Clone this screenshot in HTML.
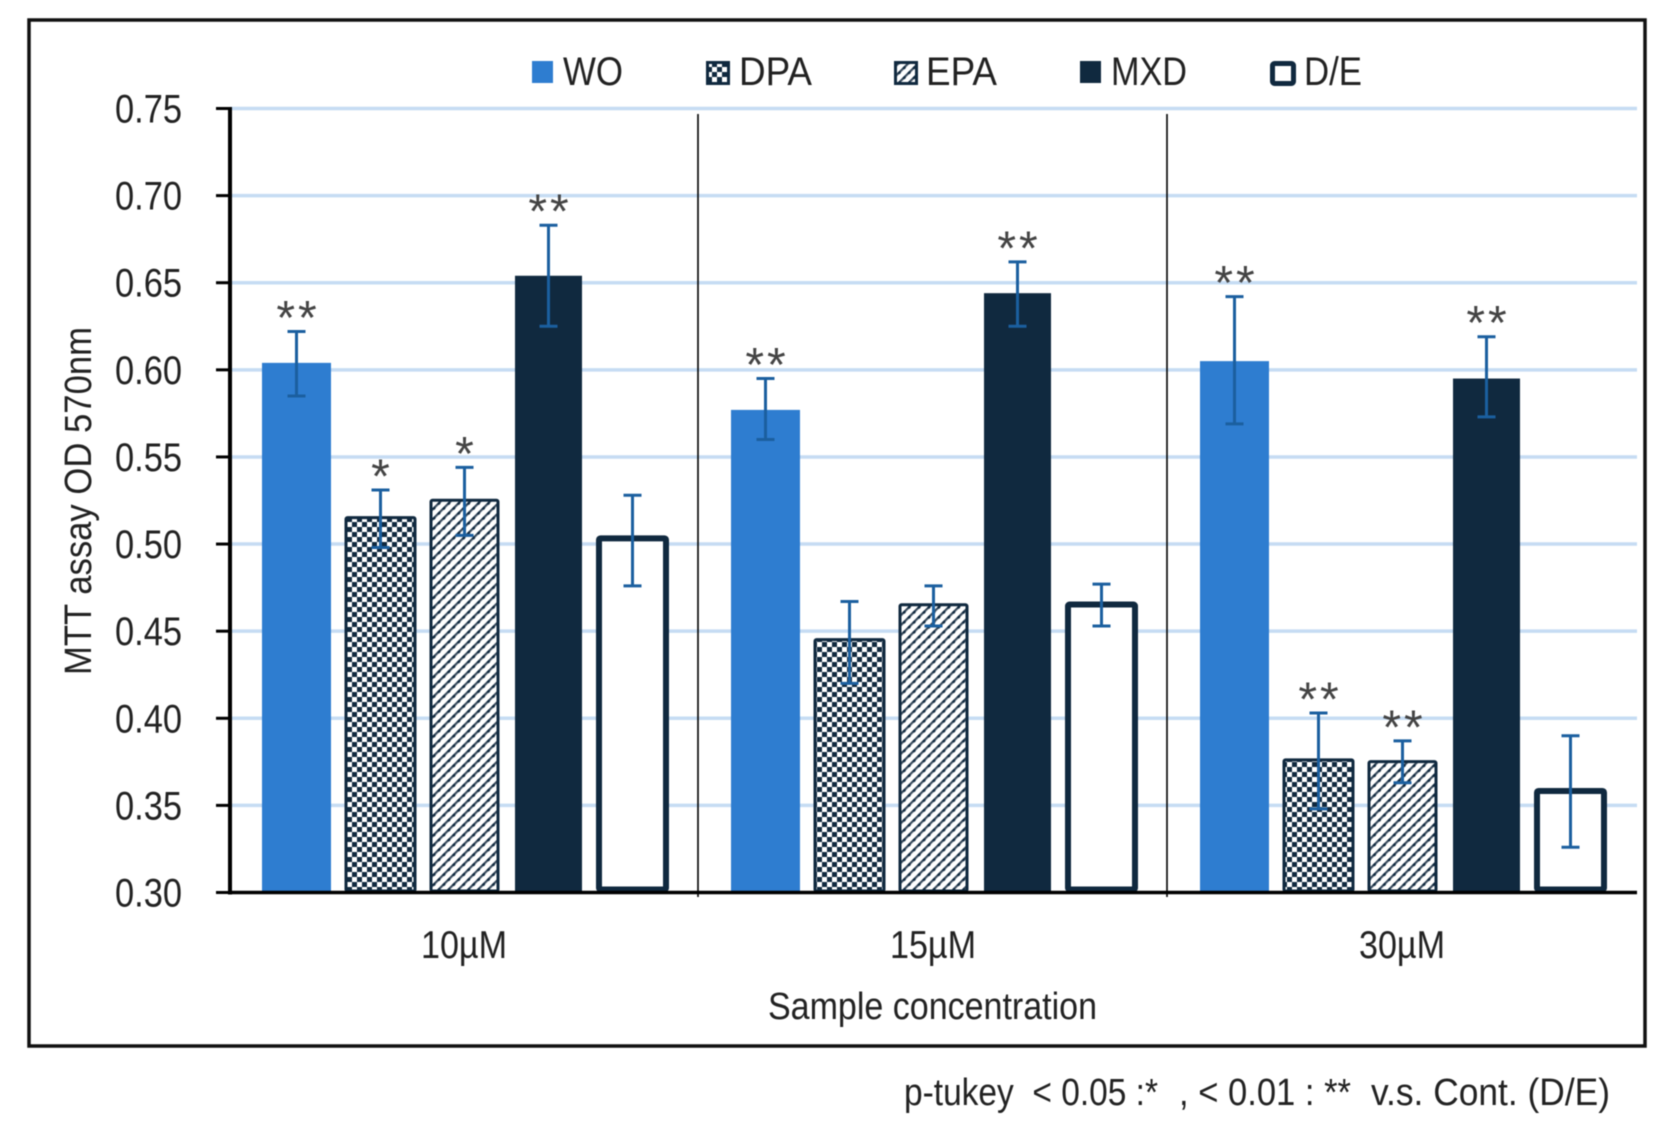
<!DOCTYPE html>
<html lang="en">
<head>
<meta charset="utf-8">
<title>MTT assay chart</title>
<style>
html,body{margin:0;padding:0;background:#fff;width:1668px;height:1130px;overflow:hidden}
svg{display:block;filter:blur(0.6px)}
text{font-family:"Liberation Sans",sans-serif;fill:#222}
</style>
</head>
<body>
<svg id="chart" xmlns="http://www.w3.org/2000/svg" width="1668" height="1130" viewBox="0 0 1668 1130">
  <defs>
    <pattern id="pat-check" width="10" height="10" patternUnits="userSpaceOnUse" patternTransform="translate(2 2)">
      <rect width="10" height="10" fill="#ffffff"/>
      <rect width="5" height="5" fill="#10293f"/>
      <rect x="5" y="5" width="5" height="5" fill="#10293f"/>
    </pattern>
    <pattern id="pat-diag" width="7" height="7" patternUnits="userSpaceOnUse" patternTransform="rotate(-45)">
      <rect width="7" height="7" fill="#ffffff"/>
      <rect width="7" height="2.2" fill="#3a4c5e"/>
      <circle cx="3.5" cy="1.1" r="1.6" fill="#10293f"/>
    </pattern>
  </defs>
  <rect x="29" y="20" width="1616" height="1026" fill="#fff" stroke="#111" stroke-width="3.5"/>
  <g id="grid"></g>
  <g id="bars"></g>
  <line x1="698" y1="114" x2="698" y2="897" stroke="#000" stroke-width="1.6"/>
  <line x1="1167" y1="114" x2="1167" y2="897" stroke="#000" stroke-width="1.6"/>
  <g id="errors"></g>
  <g id="sig"></g>
  <g id="axes"></g>

  <g>
    <rect x="532" y="61" width="21" height="22" fill="#2e7dd0"/>
    <text x="563" y="85" font-size="40" textLength="60" lengthAdjust="spacingAndGlyphs">WO</text>
    <rect x="707.5" y="62.5" width="21" height="21" fill="url(#pat-check)" stroke="#10293f" stroke-width="3"/>
    <text x="739" y="85" font-size="40" textLength="73" lengthAdjust="spacingAndGlyphs">DPA</text>
    <rect x="895.5" y="62.5" width="21" height="21" fill="url(#pat-diag)" stroke="#10293f" stroke-width="3"/>
    <text x="926" y="85" font-size="40" textLength="71" lengthAdjust="spacingAndGlyphs">EPA</text>
    <rect x="1080" y="61" width="21" height="22" fill="#10293f"/>
    <text x="1111" y="85" font-size="40" textLength="76" lengthAdjust="spacingAndGlyphs">MXD</text>
    <rect x="1272.5" y="63.5" width="21" height="20" rx="2" fill="#fff" stroke="#10293f" stroke-width="5"/>
    <text x="1304" y="85" font-size="40" textLength="58" lengthAdjust="spacingAndGlyphs">D/E</text>
  </g>

  <text transform="translate(91 501) rotate(-90)" text-anchor="middle" font-size="38" textLength="348" lengthAdjust="spacingAndGlyphs">MTT assay OD 570nm</text>
  <text x="768" y="1019" font-size="38" textLength="329" lengthAdjust="spacingAndGlyphs">Sample concentration</text>
  <g>
    <text x="904" y="1105" font-size="38" textLength="254" lengthAdjust="spacingAndGlyphs" xml:space="preserve">p-tukey  &lt; 0.05 :*</text>
    <text x="1179" y="1105" font-size="38" textLength="172" lengthAdjust="spacingAndGlyphs">, &lt; 0.01 : **</text>
    <text x="1371" y="1105" font-size="38" textLength="239" lengthAdjust="spacingAndGlyphs">v.s. Cont. (D/E)</text>
  </g>
</svg>

<script>
const categories = ['10µM', '15µM', '30µM'];
const seriesNames = ['WO', 'DPA', 'EPA', 'MXD', 'D/E'];
const tickLabels = ['0.30', '0.35', '0.40', '0.45', '0.50', '0.55', '0.60', '0.65', '0.70', '0.75'];
const valuesWO = [0.604, 0.577, 0.605];
const valuesDPA = [0.516, 0.446, 0.377];
const valuesEPA = [0.526, 0.466, 0.376];
const valuesMXD = [0.654, 0.644, 0.595];
const valuesDE = [0.505, 0.467, 0.360];
const errHighWO = [0.622, 0.595, 0.642];
const errLowWO = [0.585, 0.560, 0.569];
const errHighDPA = [0.531, 0.467, 0.403];
const errLowDPA = [0.498, 0.420, 0.348];
const errHighEPA = [0.544, 0.476, 0.387];
const errLowEPA = [0.505, 0.453, 0.363];
const errHighMXD = [0.683, 0.662, 0.619];
const errLowMXD = [0.625, 0.625, 0.573];
const errHighDE = [0.528, 0.477, 0.390];
const errLowDE = [0.476, 0.453, 0.326];
const sigWO = ['**', '**', '**'];
const sigDPA = ['*', '', '**'];
const sigEPA = ['*', '', '**'];
const sigMXD = ['**', '**', '**'];
const sigDE = ['', '', ''];

const seriesValues = [valuesWO, valuesDPA, valuesEPA, valuesMXD, valuesDE];
const seriesHigh = [errHighWO, errHighDPA, errHighEPA, errHighMXD, errHighDE];
const seriesLow = [errLowWO, errLowDPA, errLowEPA, errLowMXD, errLowDE];
const seriesSig = [sigWO, sigDPA, sigEPA, sigMXD, sigDE];

const SVG_NS = 'http://www.w3.org/2000/svg';
const plotLeft = 230, plotRight = 1637, plotTop = 108.5, plotBottom = 892.5;
const axisMin = parseFloat(tickLabels[0]);
const axisMax = parseFloat(tickLabels[tickLabels.length - 1]);

function yScale(v) {
  return plotBottom - (v - axisMin) / (axisMax - axisMin) * (plotBottom - plotTop);
}
function groupCenter(c) {
  const band = (plotRight - plotLeft) / categories.length;
  return plotLeft + band * (c + 0.5);
}
function barCenter(c, s) {
  const step = 84;
  return groupCenter(c) + (s - (seriesNames.length - 1) / 2) * step;
}
function shape(tag, parent, props) {
  const el = document.createElementNS(SVG_NS, tag);
  for (const k in props) el.setAttribute(k, props[k]);
  parent.appendChild(el);
  return el;
}

const gridLayer = document.getElementById('grid');
const barLayer = document.getElementById('bars');
const errLayer = document.getElementById('errors');
const sigLayer = document.getElementById('sig');
const axisLayer = document.getElementById('axes');

tickLabels.forEach(function (label) {
  const v = parseFloat(label);
  const y = yScale(v);
  if (v > axisMin) {
    const g = shape('line', gridLayer, {x1: plotLeft, x2: plotRight, y1: y, y2: y, stroke: '#c6dcf3', 'stroke-width': 3.5});
    
    
  }
  const t = shape('line', axisLayer, {x1: 216, x2: plotLeft, y1: y, y2: y, stroke: '#000', 'stroke-width': 3});
  
  
  const txt = shape('text', axisLayer, {x: 115, y: y + 14, 'font-size': 40, textLength: 67, lengthAdjust: 'spacingAndGlyphs'});
  txt.textContent = label;
  
  
});

const yAxisLine = shape('line', axisLayer, {x1: plotLeft, x2: plotLeft, y1: plotTop - 1.5, y2: plotBottom + 2, stroke: '#000', 'stroke-width': 4});


const xAxisLine = shape('line', axisLayer, {x1: plotLeft, x2: plotRight, y1: plotBottom, y2: plotBottom, stroke: '#000', 'stroke-width': 3.5});



categories.forEach(function (cat, c) {
  const t = shape('text', axisLayer, {x: groupCenter(c) - 43.5, y: 958, 'font-size': 39, textLength: 86, lengthAdjust: 'spacingAndGlyphs'});
  t.textContent = cat;
  
  

  seriesNames.forEach(function (name, s) {
    const cx = barCenter(c, s);
    const top = yScale(seriesValues[s][c]);
    let fill = '#2e7dd0', stroke = 'none', sw = 0, halfW = 34.5;
    if (s === 1) { fill = 'url(#pat-check)'; stroke = '#10293f'; sw = 3; halfW = 34.5; }
    if (s === 2) { fill = 'url(#pat-diag)'; stroke = '#10293f'; sw = 3; halfW = 33.5; }
    if (s === 3) { fill = '#10293f'; halfW = 33.5; }
    if (s === 4) { fill = '#ffffff'; stroke = '#10293f'; sw = 6; halfW = 33.5; }
    const bar = shape('rect', barLayer, {x: cx - halfW, y: top + sw / 2, width: halfW * 2, height: plotBottom - top - sw, fill: fill, stroke: stroke, 'stroke-width': sw, rx: sw ? 1.5 : 0});
    
    

    const yHi = yScale(seriesHigh[s][c]);
    const yLo = yScale(seriesLow[s][c]);
    const capW = 9;
    const err = shape('path', errLayer, {d: 'M' + (cx - capW) + ' ' + yHi + 'H' + (cx + capW) + 'M' + cx + ' ' + yHi + 'V' + yLo + 'M' + (cx - capW) + ' ' + yLo + 'H' + (cx + capW), fill: 'none', stroke: '#1b5f9f', 'stroke-width': 3});
    
    

    const mark = seriesSig[s][c];
    if (mark) {
      const m = shape('text', sigLayer, {x: cx + 1.5, y: yHi + 2.5, 'text-anchor': 'middle', 'font-size': 48, 'letter-spacing': 3});
      m.style.fill = '#444';
      m.textContent = mark;
      
      
    }
  });
});
</script>
</body>
</html>
